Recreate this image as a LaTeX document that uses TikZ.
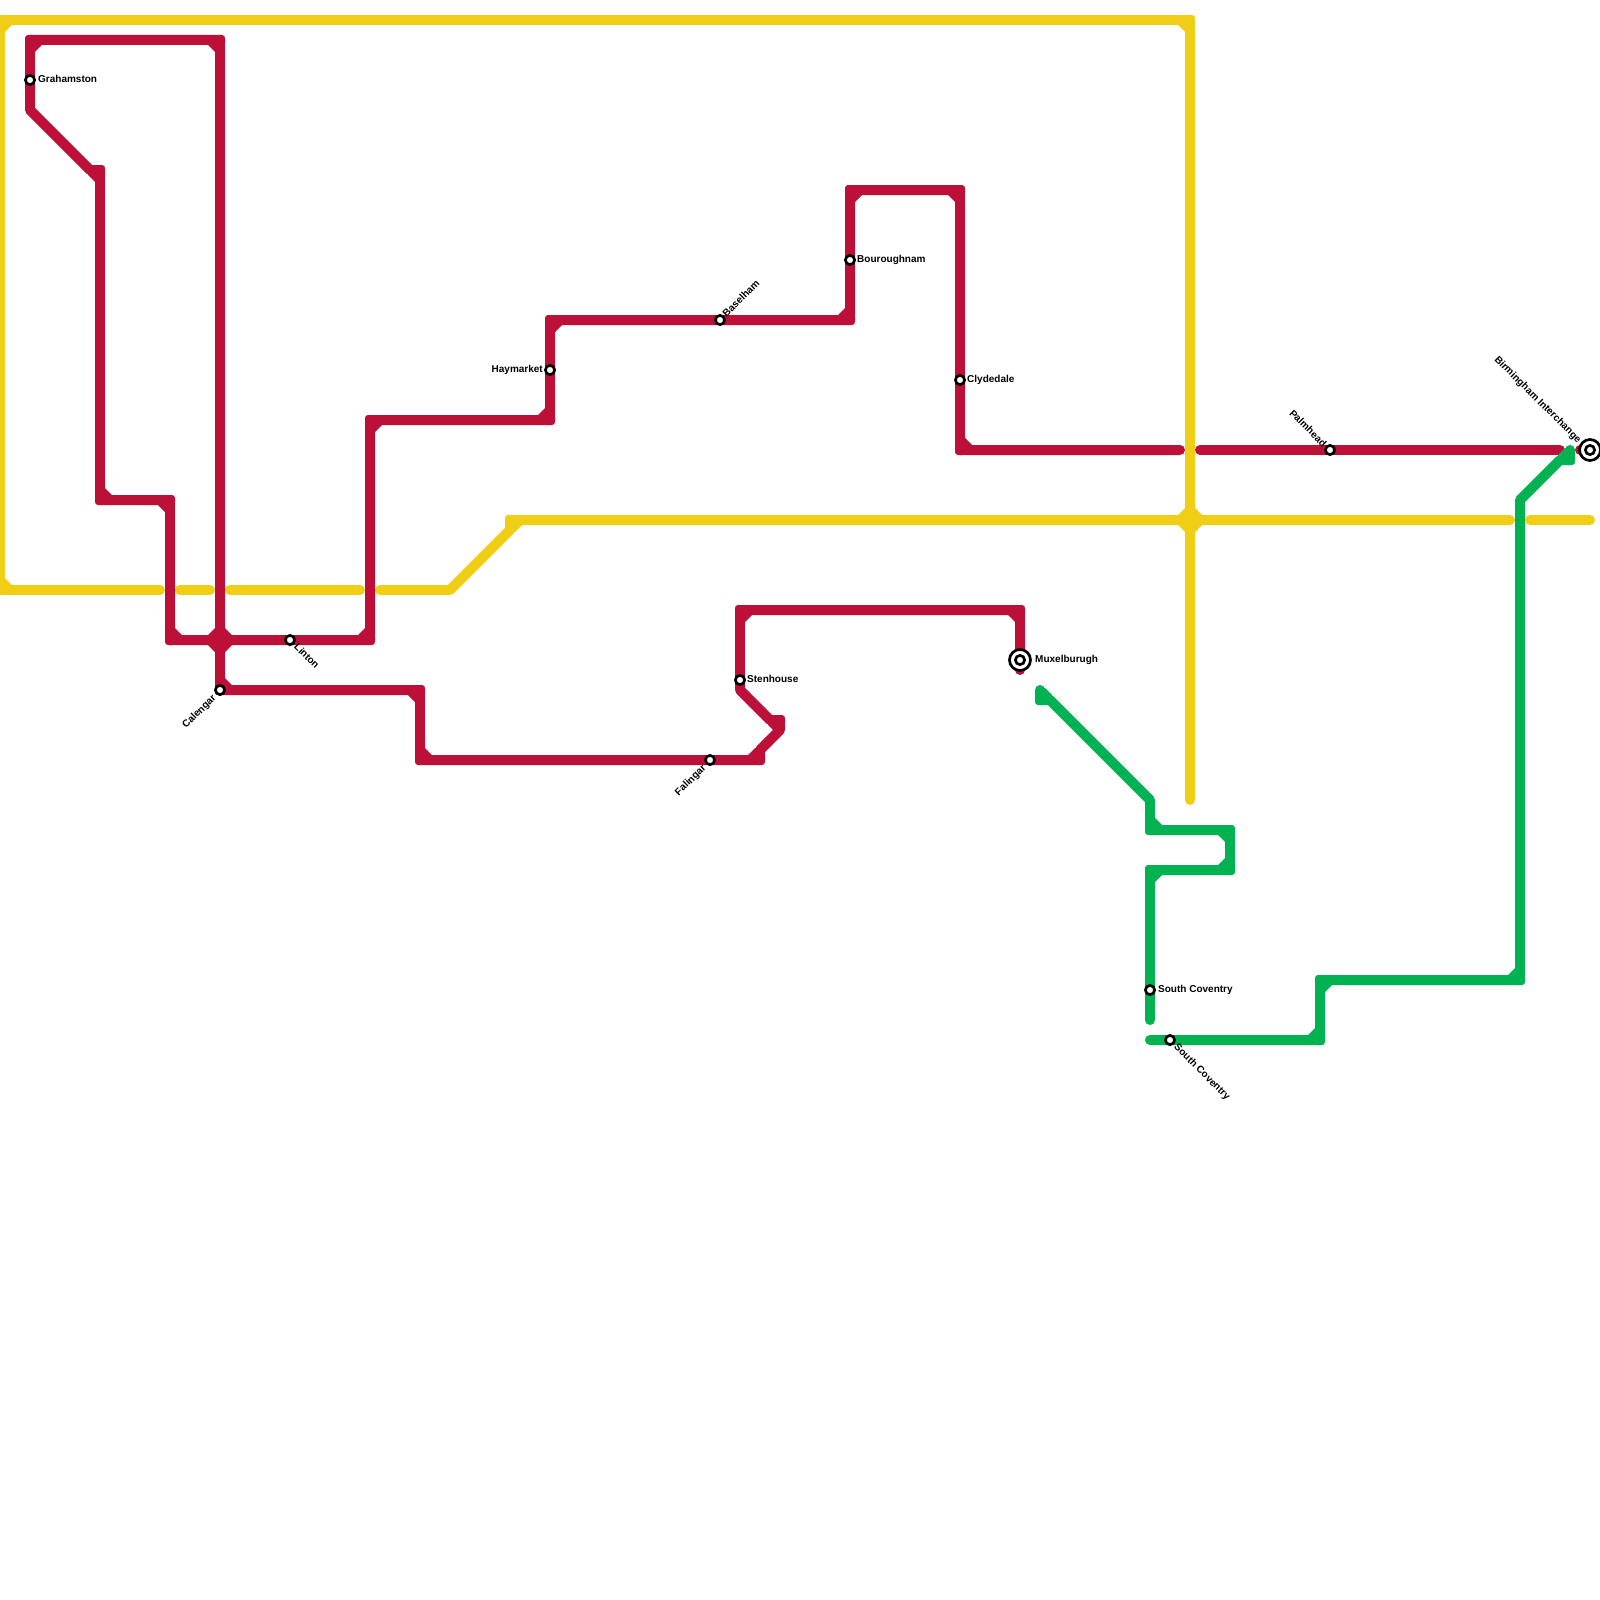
\documentclass[tikz,border=0pt]{standalone}
\usepackage{fontspec}
\setmainfont{Liberation Sans}
\definecolor{lred}{HTML}{BD1038}
\definecolor{lyel}{HTML}{F0CE15}
\definecolor{lgrn}{HTML}{00B251}
\tikzset{
  railline/.style={line width=10pt,line cap=round,line join=round},
  redline/.style={railline,draw=lred},
  yelline/.style={railline,draw=lyel},
  grnline/.style={railline,draw=lgrn},
  stndot/.style={draw=black,fill=white,line width=2.7pt},
  stnmark/.style={circle,minimum size=11.7pt,inner sep=0pt,outer sep=0pt},
  lbl/.style={inner sep=0pt,text height=7.2pt,text depth=0pt,font=\fontsize{10}{11}\selectfont\bfseries,text=black}
}
\newcommand{\cornerfills}[2]{%
  \foreach \cx/\cy/\sx/\sy in {#2}{%
    \fill[#1] (\cx+12*\sx,\cy) -- (\cx+12*\sx,\cy+5*\sy) -- (\cx+5*\sx,\cy+12*\sy) -- (\cx,\cy+12*\sy) -- (\cx,\cy) -- cycle;
    \fill[#1,rounded corners=3pt] (\cx-5,\cy-5) rectangle (\cx+5,\cy+5);
  }%
}
\newcommand{\stationdot}[2]{%
  \draw[stndot] (#2) circle[radius=4.6pt];
  \node[stnmark] (#1) at (#2) {};
}
\newcommand{\stationring}[2]{%
  \draw[stndot] (#2) circle[radius=10.5pt];
  \stationdot{#1}{#2}%
}
\begin{document}
\begin{tikzpicture}[x=1pt,y=-1pt]
\useasboundingbox (0,0) rectangle (1600,1600);
% station positions
\coordinate (pGrahamston) at (30,80);
\coordinate (pCalengar) at (220,690);
\coordinate (pLinton) at (290,640);
\coordinate (pFalingar) at (710,760);
\coordinate (pStenhouse) at (740,680);
\coordinate (pBaselham) at (720,320);
\coordinate (pHaymarket) at (550,370);
\coordinate (pBouroughnam) at (850,260);
\coordinate (pClydedale) at (960,380);
\coordinate (pMuxelburugh) at (1020,660);
\coordinate (pCoventryA) at (1150,990);
\coordinate (pCoventryB) at (1170,1040);
\coordinate (pPalmhead) at (1330,450);
\coordinate (pBirmingham) at (1590,450);
% yellow line
\draw[yelline] (1190,800) -- (1190,20) -- (0,20) -- (0,590) -- (160,590);
\draw[yelline] (180,590) -- (210,590);
\draw[yelline] (230,590) -- (360,590);
\draw[yelline] (380,590) -- (450,590) -- (510,530) -- (510,520) -- (1510,520);
\draw[yelline] (1530,520) -- (1590,520);
\cornerfills{lyel}{0/20/1/1,1190/20/-1/1,0/590/1/-1,510/520/1/1,
  1190/520/1/1,1190/520/-1/1,1190/520/1/-1,1190/520/-1/-1}
% red line
\draw[redline] (1020,670) -- (pMuxelburugh) -- (1020,610) -- (740,610) -- (pStenhouse) -- (740,690) -- (770,720) -- (780,720) -- (780,730) -- (760,750) -- (760,760) -- (pFalingar) -- (420,760) -- (420,690) -- (pCalengar) -- (220,40) -- (30,40) -- (pGrahamston) -- (30,110) -- (90,170) -- (100,170) -- (100,500) -- (170,500) -- (170,640) -- (pLinton) -- (370,640) -- (370,420) -- (550,420) -- (pHaymarket) -- (550,320) -- (pBaselham) -- (850,320) -- (pBouroughnam) -- (850,190) -- (960,190) -- (pClydedale) -- (960,450) -- (1180,450);
\draw[redline] (1200,450) -- (pPalmhead) -- (1560,450);
\draw[redline] (1580,450) -- (pBirmingham);
\cornerfills{lred}{1020/610/-1/1,740/610/1/1,780/720/-1/1,760/760/-1/-1,420/760/1/-1,420/690/-1/1,220/690/1/-1,220/40/-1/1,30/40/1/1,100/170/-1/1,100/500/1/-1,170/500/-1/1,170/640/1/-1,370/640/-1/-1,370/420/1/1,550/420/-1/-1,550/320/1/1,850/320/-1/-1,850/190/1/1,960/190/-1/1,960/450/1/-1,
  220/640/1/1,220/640/-1/1,220/640/1/-1,220/640/-1/-1}
% green line
\draw[grnline] (1040,690) -- (1040,700) -- (1050,700) -- (1150,800) -- (1150,830) -- (1230,830) -- (1230,870) -- (1150,870) -- (pCoventryA) -- (1150,1020);
\draw[grnline] (1150,1040) -- (pCoventryB) -- (1320,1040) -- (1320,980) -- (1520,980) -- (1520,500) -- (1560,460) -- (1570,460) -- (1570,450);
\cornerfills{lgrn}{1040/700/1/-1,1150/830/1/-1,1230/830/-1/1,1230/870/-1/-1,1150/870/1/1,1320/1040/-1/-1,1320/980/1/1,1520/980/-1/-1,1570/460/-1/-1}
% stations
\stationdot{Grahamston}{pGrahamston}
\stationdot{Calengar}{pCalengar}
\stationdot{Linton}{pLinton}
\stationdot{Falingar}{pFalingar}
\stationdot{Stenhouse}{pStenhouse}
\stationdot{Baselham}{pBaselham}
\stationdot{Haymarket}{pHaymarket}
\stationdot{Bouroughnam}{pBouroughnam}
\stationdot{Clydedale}{pClydedale}
\stationring{Muxelburugh}{pMuxelburugh}
\stationdot{CoventryA}{pCoventryA}
\stationdot{CoventryB}{pCoventryB}
\stationdot{Palmhead}{pPalmhead}
\stationring{Birmingham}{pBirmingham}
% labels
\node[lbl,anchor=west] (tGrahamston) at (38,79) {Grahamston};
\node[lbl,anchor=west] (tStenhouse) at (747,679) {Stenhouse};
\node[lbl,anchor=west] (tBouroughnam) at (857,259) {Bouroughnam};
\node[lbl,anchor=west] (tClydedale) at (967,379) {Clydedale};
\node[lbl,anchor=west] (tMuxelburugh) at (1035,659) {Muxelburugh};
\node[lbl,anchor=west] (tCoventryA) at (1158,989) {South Coventry};
\node[lbl,anchor=east] (tHaymarket) at (543,369) {Haymarket};
\node[lbl,anchor=west,rotate=45] (tBaselham) at (724,315) {Baselham};
\node[lbl,anchor=east,rotate=45] (tCalengar) at (214,696) {Calengar};
\node[lbl,anchor=east,rotate=45] (tFalingar) at (704,766) {Falingar};
\node[lbl,anchor=west,rotate=-45] (tLinton) at (296,645) {Linton};
\node[lbl,anchor=west,rotate=-45] (tCoventryB) at (1176,1045) {South Coventry};
\node[lbl,anchor=east,rotate=-45] (tPalmhead) at (1325,445) {Palmhead};
\node[lbl,anchor=east,rotate=-45] (tBirmingham) at (1580,441) {Birmingham Interchange};
\end{tikzpicture}
\end{document}
